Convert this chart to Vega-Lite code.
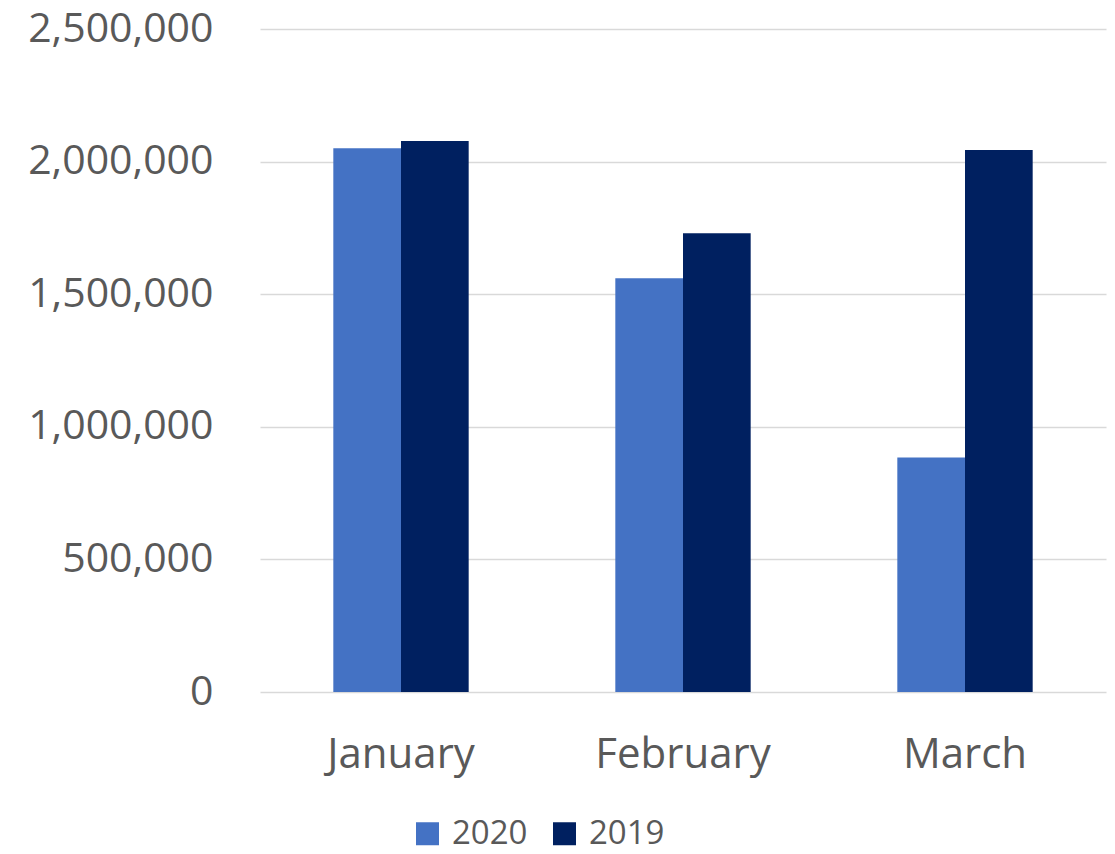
{
  "$schema": "https://vega.github.io/schema/vega-lite/v6.json",
  "width": 846,
  "height": 663,
  "autosize": {"type": "none"},
  "padding": {"left": 260, "top": 29, "right": 9, "bottom": 162},
  "background": "white",
  "config": {
    "view": {"stroke": null},
    "font": "Open Sans"
  },
  "data": {
    "values": [
      {"month": "January", "year": "2020", "value": 2050000},
      {"month": "January", "year": "2019", "value": 2078000},
      {"month": "February", "year": "2020", "value": 1560000},
      {"month": "February", "year": "2019", "value": 1730000},
      {"month": "March", "year": "2020", "value": 884000},
      {"month": "March", "year": "2019", "value": 2044000}
    ]
  },
  "mark": {"type": "bar"},
  "encoding": {
    "x": {
      "field": "month",
      "type": "nominal",
      "sort": ["January", "February", "March"],
      "scale": {"paddingInner": 0.52, "paddingOuter": 0.26},
      "axis": {
        "title": null,
        "labelAngle": 0,
        "labelFont": "Open Sans",
        "labelFontSize": 42,
        "labelColor": "#595959",
        "labelPadding": 42,
        "labelBaseline": "top",
        "labelLimit": 400,
        "domain": false,
        "ticks": false
      }
    },
    "xOffset": {
      "field": "year",
      "type": "nominal",
      "sort": ["2020", "2019"],
      "scale": {"paddingInner": 0, "paddingOuter": 0}
    },
    "y": {
      "field": "value",
      "type": "quantitative",
      "scale": {"domain": [0, 2500000], "nice": false},
      "axis": {
        "title": null,
        "values": [0, 500000, 1000000, 1500000, 2000000, 2500000],
        "format": ",d",
        "labelFont": "Open Sans",
        "labelFontSize": 41,
        "labelColor": "#595959",
        "labelPadding": 47,
        "labelLimit": 400,
        "domain": false,
        "ticks": false,
        "grid": true,
        "gridColor": "#d9d9d9",
        "gridWidth": 1.5
      }
    },
    "color": {
      "field": "year",
      "type": "nominal",
      "sort": ["2020", "2019"],
      "scale": {"domain": ["2020", "2019"], "range": ["#4472C4", "#002060"]},
      "legend": {
        "title": null,
        "orient": "none",
        "direction": "horizontal",
        "legendX": 151,
        "legendY": 788,
        "symbolType": "square",
        "symbolSize": 529,
        "symbolStrokeWidth": 0,
        "symbolOpacity": 1,
        "labelFont": "Open Sans",
        "labelFontSize": 33,
        "labelColor": "#595959",
        "labelOffset": 8,
        "columnPadding": 20,
        "labelLimit": 300
      }
    }
  }
}
